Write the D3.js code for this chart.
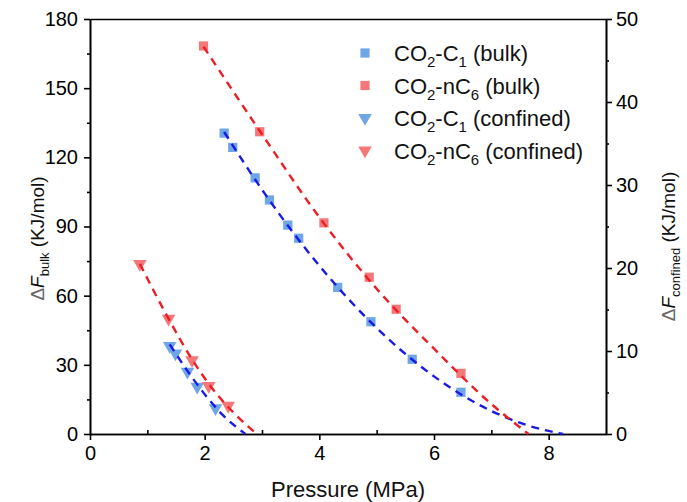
<!DOCTYPE html>
<html>
<head>
<meta charset="utf-8">
<script src="https://cdn.jsdelivr.net/npm/d3@7"></script>
<style>
  body { margin: 0; background: #fff; }
  text { font-family: "Liberation Sans", Arial, sans-serif; }
</style>
</head>
<body>
<div id="chart"></div>
<script>
// data: [pressure (MPa), dF (KJ/mol)]
var c1Bulk = [[2.34, 130.5], [2.49, 124.3], [2.88, 111.1], [3.13, 101.5], [3.45, 90.6],
              [3.64, 84.9], [4.32, 63.6], [4.90, 48.7], [5.62, 32.4], [6.47, 18.1]];
var c6Bulk = [[1.98, 168.3], [2.96, 131.1], [4.08, 91.6], [4.87, 68.0], [5.34, 54.1], [6.47, 26.3]];
var c1Conf = [[1.39, 10.6], [1.49, 9.7], [1.70, 7.5], [1.87, 5.7], [2.19, 3.1]];
var c6Conf = [[0.87, 20.5], [1.37, 13.9], [1.78, 8.9], [2.07, 5.8], [2.41, 3.4]];

// fitted dashed curves
var c1BulkFit = [[2.34, 131], [3.0, 106], [4.0, 73], [5.0, 46], [6.0, 25], [7.0, 10], [7.6, 4], [8.25, 0]];
var c6BulkFit = [[1.98, 168], [3.0, 130], [4.0, 94], [5.0, 63], [6.0, 37], [7.0, 13], [7.65, 0]];
var c1ConfFit = [[1.39, 10.8], [1.7, 7.6], [2.0, 4.8], [2.3, 2.4], [2.71, 0]];
var c6ConfFit = [[0.87, 20.5], [1.37, 13.9], [1.78, 9.0], [2.2, 4.9], [2.5, 2.6], [2.91, 0]];

var xTicks = [0, 2, 4, 6, 8];
var xMinor = [1, 3, 5, 7];
var yLeftTicks = [0, 30, 60, 90, 120, 150, 180];
var yLeftMinor = [15, 45, 75, 105, 135, 165];
var yRightTicks = [0, 10, 20, 30, 40, 50];
var yRightMinor = [5, 15, 25, 35, 45];

var legendItems = [
  { main: "CO", sub: "2", mid: "-C", sub2: "1", tail: " (bulk)", shape: "square", color: "#6fa6e6" },
  { main: "CO", sub: "2", mid: "-nC", sub2: "6", tail: " (bulk)", shape: "square", color: "#f57878" },
  { main: "CO", sub: "2", mid: "-C", sub2: "1", tail: " (confined)", shape: "tri", color: "#6fa6e6" },
  { main: "CO", sub: "2", mid: "-nC", sub2: "6", tail: " (confined)", shape: "tri", color: "#f57878" }
];

var margin = { top: 19, right: 81, bottom: 68, left: 90 },
    width = 687 - margin.left - margin.right,
    height = 502 - margin.top - margin.bottom;

var svg = d3.select("#chart").append("svg")
    .attr("width", 687).attr("height", 502)
    .append("g")
    .attr("transform", "translate(" + margin.left + "," + margin.top + ")");

var x = d3.scaleLinear().domain([0, 9]).range([0, width]);
var yL = d3.scaleLinear().domain([0, 180]).range([height, 0]);
var yR = d3.scaleLinear().domain([0, 50]).range([height, 0]);

function styleAxis(g) {
  g.selectAll("path, line").attr("stroke", "#000").attr("stroke-width", 1.6);
  g.selectAll("text").attr("font-size", "20px").attr("fill", "#000")
    .style("font-family", "'Liberation Sans', Arial, sans-serif");
}

// axes
svg.append("g").attr("transform", "translate(0," + height + ")")
  .call(d3.axisBottom(x).tickValues(xTicks).tickSize(6).tickSizeOuter(0).tickPadding(6))
  .call(styleAxis);
svg.append("g").attr("transform", "translate(0," + height + ")")
  .call(d3.axisTop(x).tickValues(xMinor).tickSize(4).tickSizeOuter(0).tickFormat(""))
  .call(styleAxis);

svg.append("g")
  .call(d3.axisLeft(yL).tickValues(yLeftTicks).tickSize(6).tickSizeOuter(0).tickPadding(6))
  .call(styleAxis);
svg.append("g")
  .call(d3.axisLeft(yL).tickValues(yLeftMinor).tickSize(3).tickSizeOuter(0).tickFormat(""))
  .call(styleAxis);

svg.append("g").attr("transform", "translate(" + width + ",0)")
  .call(d3.axisRight(yR).tickValues(yRightTicks).tickSize(6).tickSizeOuter(0).tickPadding(4))
  .call(styleAxis);
svg.append("g").attr("transform", "translate(" + width + ",0)")
  .call(d3.axisRight(yR).tickValues(yRightMinor).tickSize(3).tickSizeOuter(0).tickFormat(""))
  .call(styleAxis);

// top frame
svg.append("g")
  .call(d3.axisTop(x).tickValues([]).tickSizeOuter(0))
  .call(styleAxis);

// markers
function drawMarkers(data, yScale, shape, color) {
  var sym = shape == "square" ? d3.symbol().type(d3.symbolSquare).size(85)
                              : d3.symbol().type(d3.symbolTriangle).size(80);
  svg.selectAll(null)
    .data(data)
    .enter()
    .append("path")
    .attr("d", sym)
    .attr("transform", function (d) {
      return "translate(" + x(d[0]) + "," + yScale(d[1]) + ")" + (shape == "tri" ? " rotate(180)" : "");
    })
    .attr("fill", color);
}
drawMarkers(c1Bulk, yL, "square", legendItems[0].color);
drawMarkers(c6Bulk, yL, "square", legendItems[1].color);
drawMarkers(c1Conf, yR, "tri", legendItems[2].color);
drawMarkers(c6Conf, yR, "tri", legendItems[3].color);

// fitted dashed lines
function drawFit(data, yScale, color) {
  var line = d3.line()
    .x(function (d) { return x(d[0]); })
    .y(function (d) { return yScale(d[1]); })
    .curve(d3.curveMonotoneX);
  svg.append("path")
    .datum(data)
    .attr("d", line)
    .attr("fill", "none")
    .attr("stroke", color)
    .attr("stroke-width", 2.4)
    .attr("stroke-dasharray", "8,6");
}
drawFit(c1BulkFit, yL, "#1a1ae6");
drawFit(c6BulkFit, yL, "#ee1c24");
drawFit(c1ConfFit, yR, "#1a1ae6");
drawFit(c6ConfFit, yR, "#ee1c24");

// legend
var legend = svg.append("g").attr("transform", "translate(275,34)");
legendItems.forEach(function (it, i) {
  var g = legend.append("g").attr("transform", "translate(0," + (i * 32.5) + ")");
  var sym = it.shape == "square" ? d3.symbol().type(d3.symbolSquare).size(85)
                                 : d3.symbol().type(d3.symbolTriangle).size(80);
  g.append("path").attr("d", sym)
    .attr("transform", "translate(0,0)" + (it.shape == "tri" ? " rotate(180)" : ""))
    .attr("fill", it.color);
  var t = g.append("text").attr("x", 29).attr("y", 8).attr("font-size", "22px").attr("fill", "#111");
  t.append("tspan").text(it.main);
  t.append("tspan").attr("dy", 6).attr("font-size", "15px").text(it.sub);
  t.append("tspan").attr("dy", -6).text(it.mid);
  t.append("tspan").attr("dy", 6).attr("font-size", "15px").text(it.sub2);
  t.append("tspan").attr("dy", -6).text(it.tail);
});

// axis titles
svg.append("text")
  .attr("x", width / 2).attr("y", height + 63)
  .attr("text-anchor", "middle").attr("font-size", "22px").attr("fill", "#111")
  .text("Pressure (MPa)");

var tl = svg.append("text")
  .attr("transform", "translate(-46," + (height / 2 + 12) + ") rotate(-90)")
  .attr("text-anchor", "middle").attr("font-size", "19px").attr("fill", "#111");
tl.append("tspan").attr("fill", "#666").text("\u0394");
tl.append("tspan").attr("font-style", "italic").text("F");
tl.append("tspan").attr("dy", 5).attr("font-size", "13px").text("bulk");
tl.append("tspan").attr("dy", -5).text(" (KJ/mol)");

var tr = svg.append("text")
  .attr("transform", "translate(" + (width + 69) + "," + (height / 2 + 20) + ") rotate(-90)")
  .attr("text-anchor", "middle").attr("font-size", "19px").attr("fill", "#111");
tr.append("tspan").attr("fill", "#666").text("\u0394");
tr.append("tspan").attr("font-style", "italic").text("F");
tr.append("tspan").attr("dy", 5).attr("font-size", "13px").text("confined");
tr.append("tspan").attr("dy", -5).text(" (KJ/mol)");
</script>
</body>
</html>
